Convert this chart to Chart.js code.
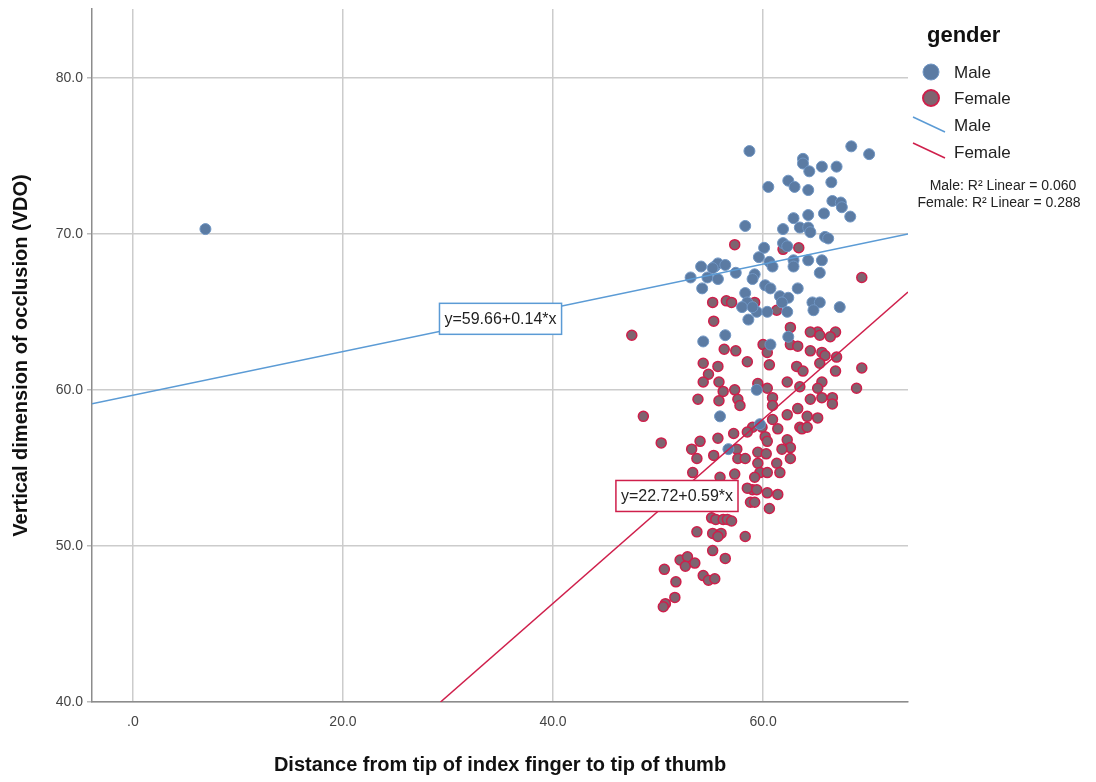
<!DOCTYPE html>
<html lang="en">
<head>
<meta charset="UTF-8">
<title>VDO vs finger distance</title>
<script src="https://cdn.jsdelivr.net/npm/chart.js"></script>
<style>
  body { margin: 0; background: #fff; }
  #wrap { width: 1096px; height: 782px; }
</style>
</head>
<body>
<div id="wrap"><canvas id="scatter"></canvas></div>
<script>
// [distance index-thumb, VDO]
const malePoints = [
  [6.9,70.3],[58.7,75.3],[68.4,75.6],[70.1,75.1],[63.8,74.8],[63.8,74.5],[64.4,74.0],[65.6,74.3],[67.0,74.3],[66.5,73.3],
  [62.4,73.4],[63.0,73.0],[64.3,72.8],[60.5,73.0],[66.6,72.1],[67.4,72.0],[67.5,71.7],[68.3,71.1],[65.8,71.3],[64.3,71.2],
  [62.9,71.0],[58.3,70.5],[61.9,70.3],[63.5,70.4],[64.3,70.4],[64.5,70.1],[65.9,69.8],[66.2,69.7],[60.1,69.1],[61.9,69.4],
  [62.3,69.2],[59.6,68.5],[60.6,68.2],[60.9,67.9],[62.9,68.3],[62.9,67.9],[64.3,68.3],[65.6,68.3],[65.4,67.5],[54.1,67.9],
  [55.4,67.9],[55.7,68.1],[56.4,68.0],[55.2,67.8],[53.1,67.2],[54.7,67.2],[55.7,67.1],[57.4,67.5],[59.2,67.4],[59.0,67.1],
  [54.2,66.5],[60.2,66.7],[60.7,66.5],[63.3,66.5],[58.3,66.2],[58.5,65.6],[58.0,65.3],[59.4,65.0],[60.4,65.0],[61.6,66.0],
  [62.4,65.9],[61.8,65.6],[62.3,65.0],[64.7,65.6],[65.4,65.6],[64.8,65.1],[67.3,65.3],[58.6,64.5],[56.4,63.5],[54.3,63.1],
  [60.7,62.9],[62.4,63.4],[59.4,60.0],[55.9,58.3],[56.7,56.2],[59.7,57.8],[59.0,65.3]
];
const femalePoints = [
  [47.5,63.5],[48.6,58.3],[50.3,56.6],[57.3,69.3],[61.9,69.0],[63.4,69.1],[69.4,67.2],[55.2,65.6],[56.5,65.7],[57.0,65.6],
  [59.2,65.6],[61.3,65.1],[55.3,64.4],[62.6,64.0],[65.2,63.7],[66.9,63.7],[64.5,63.7],[65.4,63.5],[66.4,63.4],[60.0,62.9],
  [60.4,62.4],[56.3,62.6],[57.4,62.5],[62.6,62.9],[63.3,62.8],[64.5,62.5],[65.6,62.4],[65.9,62.2],[67.0,62.1],[65.4,61.7],
  [54.3,61.7],[55.7,61.5],[58.5,61.8],[60.6,61.6],[63.2,61.5],[63.8,61.2],[66.9,61.2],[69.4,61.4],[54.8,61.0],[54.3,60.5],
  [55.8,60.5],[59.5,60.4],[62.3,60.5],[63.5,60.2],[65.6,60.5],[65.2,60.1],[68.9,60.1],[56.2,59.9],[57.3,60.0],[60.4,60.1],
  [53.8,59.4],[55.8,59.3],[57.6,59.4],[57.8,59.0],[60.9,59.5],[60.9,59.0],[64.5,59.4],[65.6,59.5],[66.6,59.5],[66.6,59.1],
  [62.3,58.4],[63.3,58.8],[64.2,58.3],[65.2,58.2],[63.5,57.6],[60.9,58.1],[59.0,57.6],[59.9,57.6],[54.0,56.7],[55.7,56.9],
  [57.2,57.2],[58.5,57.3],[60.2,57.0],[60.4,56.7],[61.4,57.5],[63.7,57.5],[64.2,57.6],[53.2,56.2],[53.7,55.6],[55.3,55.8],
  [57.5,56.2],[57.6,55.6],[58.3,55.6],[59.5,56.0],[60.3,55.9],[62.3,56.8],[62.6,56.3],[61.8,56.2],[62.6,55.6],[59.5,55.3],
  [61.3,55.3],[53.3,54.7],[55.9,54.4],[57.3,54.6],[59.7,54.7],[60.4,54.7],[61.6,54.7],[59.2,54.4],[59.0,53.6],[58.5,53.7],
  [59.4,53.6],[60.4,53.4],[61.4,53.3],[58.8,52.8],[59.2,52.8],[60.6,52.4],[55.1,51.8],[55.5,51.7],[56.2,51.7],[56.6,51.7],
  [57.0,51.6],[53.7,50.9],[55.2,50.8],[56.0,50.8],[55.7,50.6],[58.3,50.6],[55.2,49.7],[56.4,49.2],[52.1,49.1],[52.8,49.3],
  [52.6,48.7],[53.5,48.9],[50.6,48.5],[51.7,47.7],[54.3,48.1],[54.8,47.8],[55.4,47.9],[51.6,46.7],[50.7,46.3],[50.5,46.1]
];
const xTicks = [0, 20, 40, 60];
const yTicks = [40, 50, 60, 70, 80];
const xRange = [-3.9, 73.8];
const yRange = [40, 84.4];
const maleFit = [59.66, 0.14];     // intercept, slope
const femaleFit = [22.72, 0.59];
const fitLabels = ['y=59.66+0.14*x', 'y=22.72+0.59*x'];
const fitLabelAt = [[35.0, 64.55], [51.8, 53.2]];
const r2Lines = ['Male: R\u00B2 Linear = 0.060', 'Female: R\u00B2 Linear = 0.288'];

const FONT = '"Liberation Sans", Arial, sans-serif';
const maleFill = '#5b7ba3', maleEdge = '#7096c4', maleLine = '#5b9bd5';
const femFill = '#7e6470', femEdge = '#cf1f4b', femLine = '#cf1f4b';

function fitLine(fit, x0, x1) {
  return [{x: x0, y: fit[0] + fit[1] * x0}, {x: x1, y: fit[0] + fit[1] * x1}];
}
const femStart = (yRange[0] - femaleFit[0]) / femaleFit[1];

const extras = {
  id: 'extras',
  afterDatasetsDraw(chart) {
    const {ctx, scales: {x, y}} = chart;
    ctx.save();
    // fit equation boxes
    ctx.font = '16px ' + FONT;
    ctx.textAlign = 'center';
    ctx.textBaseline = 'middle';
    const boxColors = [maleLine, femLine];
    fitLabels.forEach((t, i) => {
      const cx = x.getPixelForValue(fitLabelAt[i][0]);
      const cy = y.getPixelForValue(fitLabelAt[i][1]);
      const w = ctx.measureText(t).width + 10, h = 31;
      ctx.fillStyle = '#fff';
      ctx.fillRect(cx - w / 2, cy - h / 2, w, h);
      ctx.strokeStyle = boxColors[i];
      ctx.lineWidth = 1.5;
      ctx.strokeRect(cx - w / 2, cy - h / 2, w, h);
      ctx.fillStyle = '#222';
      ctx.fillText(t, cx, cy + 1);
    });

    // legend on the right
    ctx.textAlign = 'left';
    ctx.fillStyle = '#111';
    ctx.font = 'bold 22px ' + FONT;
    ctx.fillText('gender', 927, 36);

    ctx.font = '17px ' + FONT;
    const dot = (cy, fill, edge, lw) => {
      ctx.beginPath();
      ctx.arc(931, cy, 8, 0, Math.PI * 2);
      ctx.fillStyle = fill; ctx.fill();
      ctx.lineWidth = lw; ctx.strokeStyle = edge; ctx.stroke();
    };
    dot(72, maleFill, maleEdge, 1);
    dot(98, femFill, femEdge, 2);
    const seg = (y0, col) => {
      ctx.beginPath();
      ctx.moveTo(913, y0); ctx.lineTo(945, y0 + 15);
      ctx.strokeStyle = col; ctx.lineWidth = 1.5; ctx.stroke();
    };
    seg(117, maleLine);
    seg(143, femLine);
    ctx.fillStyle = '#222';
    ctx.fillText('Male', 954, 73);
    ctx.fillText('Female', 954, 99);
    ctx.fillText('Male', 954, 126);
    ctx.fillText('Female', 954, 153);

    ctx.font = '14px ' + FONT;
    ctx.textAlign = 'center';
    ctx.fillText(r2Lines[0], 1003, 186);
    ctx.fillText(r2Lines[1], 999, 203);
    ctx.restore();
  }
};

new Chart(document.getElementById('scatter'), {
  type: 'scatter',
  data: {
    datasets: [
      {
        type: 'line', label: 'Male fit', data: fitLine(maleFit, xRange[0], xRange[1]),
        borderColor: maleLine, borderWidth: 1.5, pointRadius: 0, fill: false
      },
      {
        type: 'line', label: 'Female fit', data: fitLine(femaleFit, femStart, xRange[1]),
        borderColor: femLine, borderWidth: 1.5, pointRadius: 0, fill: false
      },
      {
        label: 'Male', data: malePoints.map(p => ({x: p[0], y: p[1]})),
        backgroundColor: maleFill, borderColor: maleEdge, borderWidth: 1, pointRadius: 5.5
      },
      {
        label: 'Female', data: femalePoints.map(p => ({x: p[0], y: p[1]})),
        backgroundColor: femFill, borderColor: femEdge, borderWidth: 1.5, pointRadius: 5
      }
    ]
  },
  options: {
    responsive: true,
    maintainAspectRatio: false,
    animation: false,
    layout: { padding: { top: 9, right: 188, left: 0, bottom: 0 } },
    plugins: { legend: { display: false }, tooltip: { enabled: false } },
    scales: {
      x: {
        type: 'linear', min: xRange[0], max: xRange[1],
        afterBuildTicks: s => { s.ticks = xTicks.map(v => ({value: v})); },
        afterFit: s => { s.height = 80; s.paddingLeft = 0; s.paddingRight = 0; },
        grid: { color: '#cccccc', lineWidth: 1.5, drawTicks: false },
        border: { display: true, color: '#8c8c8c', width: 1.5 },
        ticks: {
          padding: 12, color: '#444', font: { family: FONT, size: 14 },
          callback: v => v === 0 ? '.0' : v.toFixed(1)
        },
        title: {
          display: true, text: 'Distance from tip of index finger to tip of thumb',
          color: '#111', font: { family: FONT, size: 20, weight: 'bold' },
          padding: { top: 4, bottom: 5 }
        }
      },
      y: {
        type: 'linear', min: yRange[0], max: yRange[1],
        afterBuildTicks: s => { s.ticks = yTicks.map(v => ({value: v})); },
        afterFit: s => { s.width = 92; s.paddingTop = 0; s.paddingBottom = 0; },
        grid: { color: '#cccccc', lineWidth: 1.5, tickLength: 5, tickColor: '#bbbbbb' },
        border: { display: true, color: '#8c8c8c', width: 1.5 },
        ticks: {
          padding: 4, color: '#444', font: { family: FONT, size: 14 },
          callback: v => v.toFixed(1)
        },
        title: {
          display: true, text: 'Vertical dimension of occlusion (VDO)',
          color: '#111', font: { family: FONT, size: 20, weight: 'bold' },
          padding: { top: 9, bottom: 4 }
        }
      }
    }
  },
  plugins: [extras]
});
</script>
</body>
</html>
